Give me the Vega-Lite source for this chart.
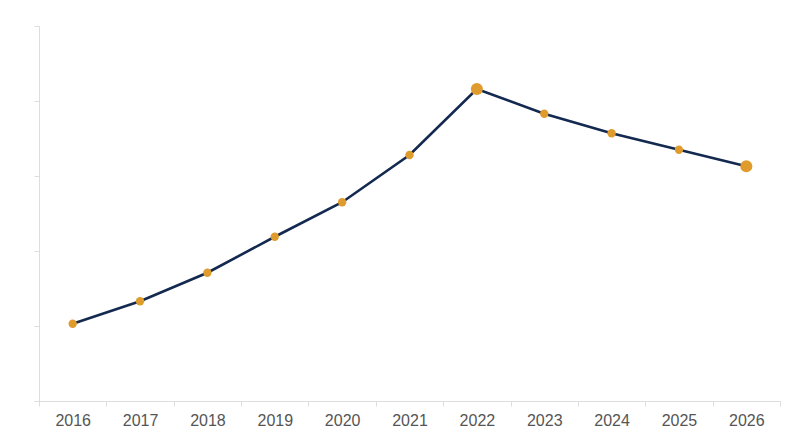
{
  "$schema": "https://vega.github.io/schema/vega-lite/v6.json",
  "autosize": "none",
  "padding": {"left": 39, "top": 26, "right": 20, "bottom": 46},
  "width": 741,
  "height": 375,
  "background": "white",
  "data": {
    "values": [
      {"year": 2016, "value": 1.03},
      {"year": 2017, "value": 1.33},
      {"year": 2018, "value": 1.71},
      {"year": 2019, "value": 2.19},
      {"year": 2020, "value": 2.65},
      {"year": 2021, "value": 3.28},
      {"year": 2022, "value": 4.16},
      {"year": 2023, "value": 3.83},
      {"year": 2024, "value": 3.57},
      {"year": 2025, "value": 3.35},
      {"year": 2026, "value": 3.13}
    ]
  },
  "encoding": {
    "x": {
      "field": "year",
      "type": "quantitative",
      "title": null,
      "scale": {"domain": [2015.5, 2026.5], "nice": false, "zero": false},
      "axis": {
        "values": [2015.5, 2016.5, 2017.5, 2018.5, 2019.5, 2020.5, 2021.5, 2022.5, 2023.5, 2024.5, 2025.5, 2026.5],
        "labelExpr": "datum.value > 2026 ? '' : format(datum.value + 0.5, 'd')",
        "labelOffset": 33.7,
        "labelFlush": false,
        "labelOverlap": false,
        "labelBound": false,
        "grid": false,
        "domainColor": "#dddddd",
        "tickColor": "#dddddd",
        "tickSize": 5,
        "labelFont": "Liberation Sans",
        "labelFontSize": 16,
        "labelColor": "#555555",
        "labelPadding": 6
      }
    },
    "y": {
      "field": "value",
      "type": "quantitative",
      "title": null,
      "scale": {"domain": [0, 5], "nice": false},
      "axis": {
        "values": [0, 1, 2, 3, 4, 5],
        "labels": false,
        "grid": false,
        "domainColor": "#dddddd",
        "tickColor": "#dddddd",
        "tickSize": 5
      }
    }
  },
  "layer": [
    {
      "mark": {"type": "line", "color": "#13294f", "strokeWidth": 2.6}
    },
    {
      "mark": {"type": "circle", "color": "#e09b2d", "opacity": 1},
      "encoding": {
        "size": {
          "condition": {"test": "datum.year == 2022 || datum.year == 2026", "value": 145},
          "value": 70
        }
      }
    }
  ],
  "config": {"view": {"stroke": null}}
}
